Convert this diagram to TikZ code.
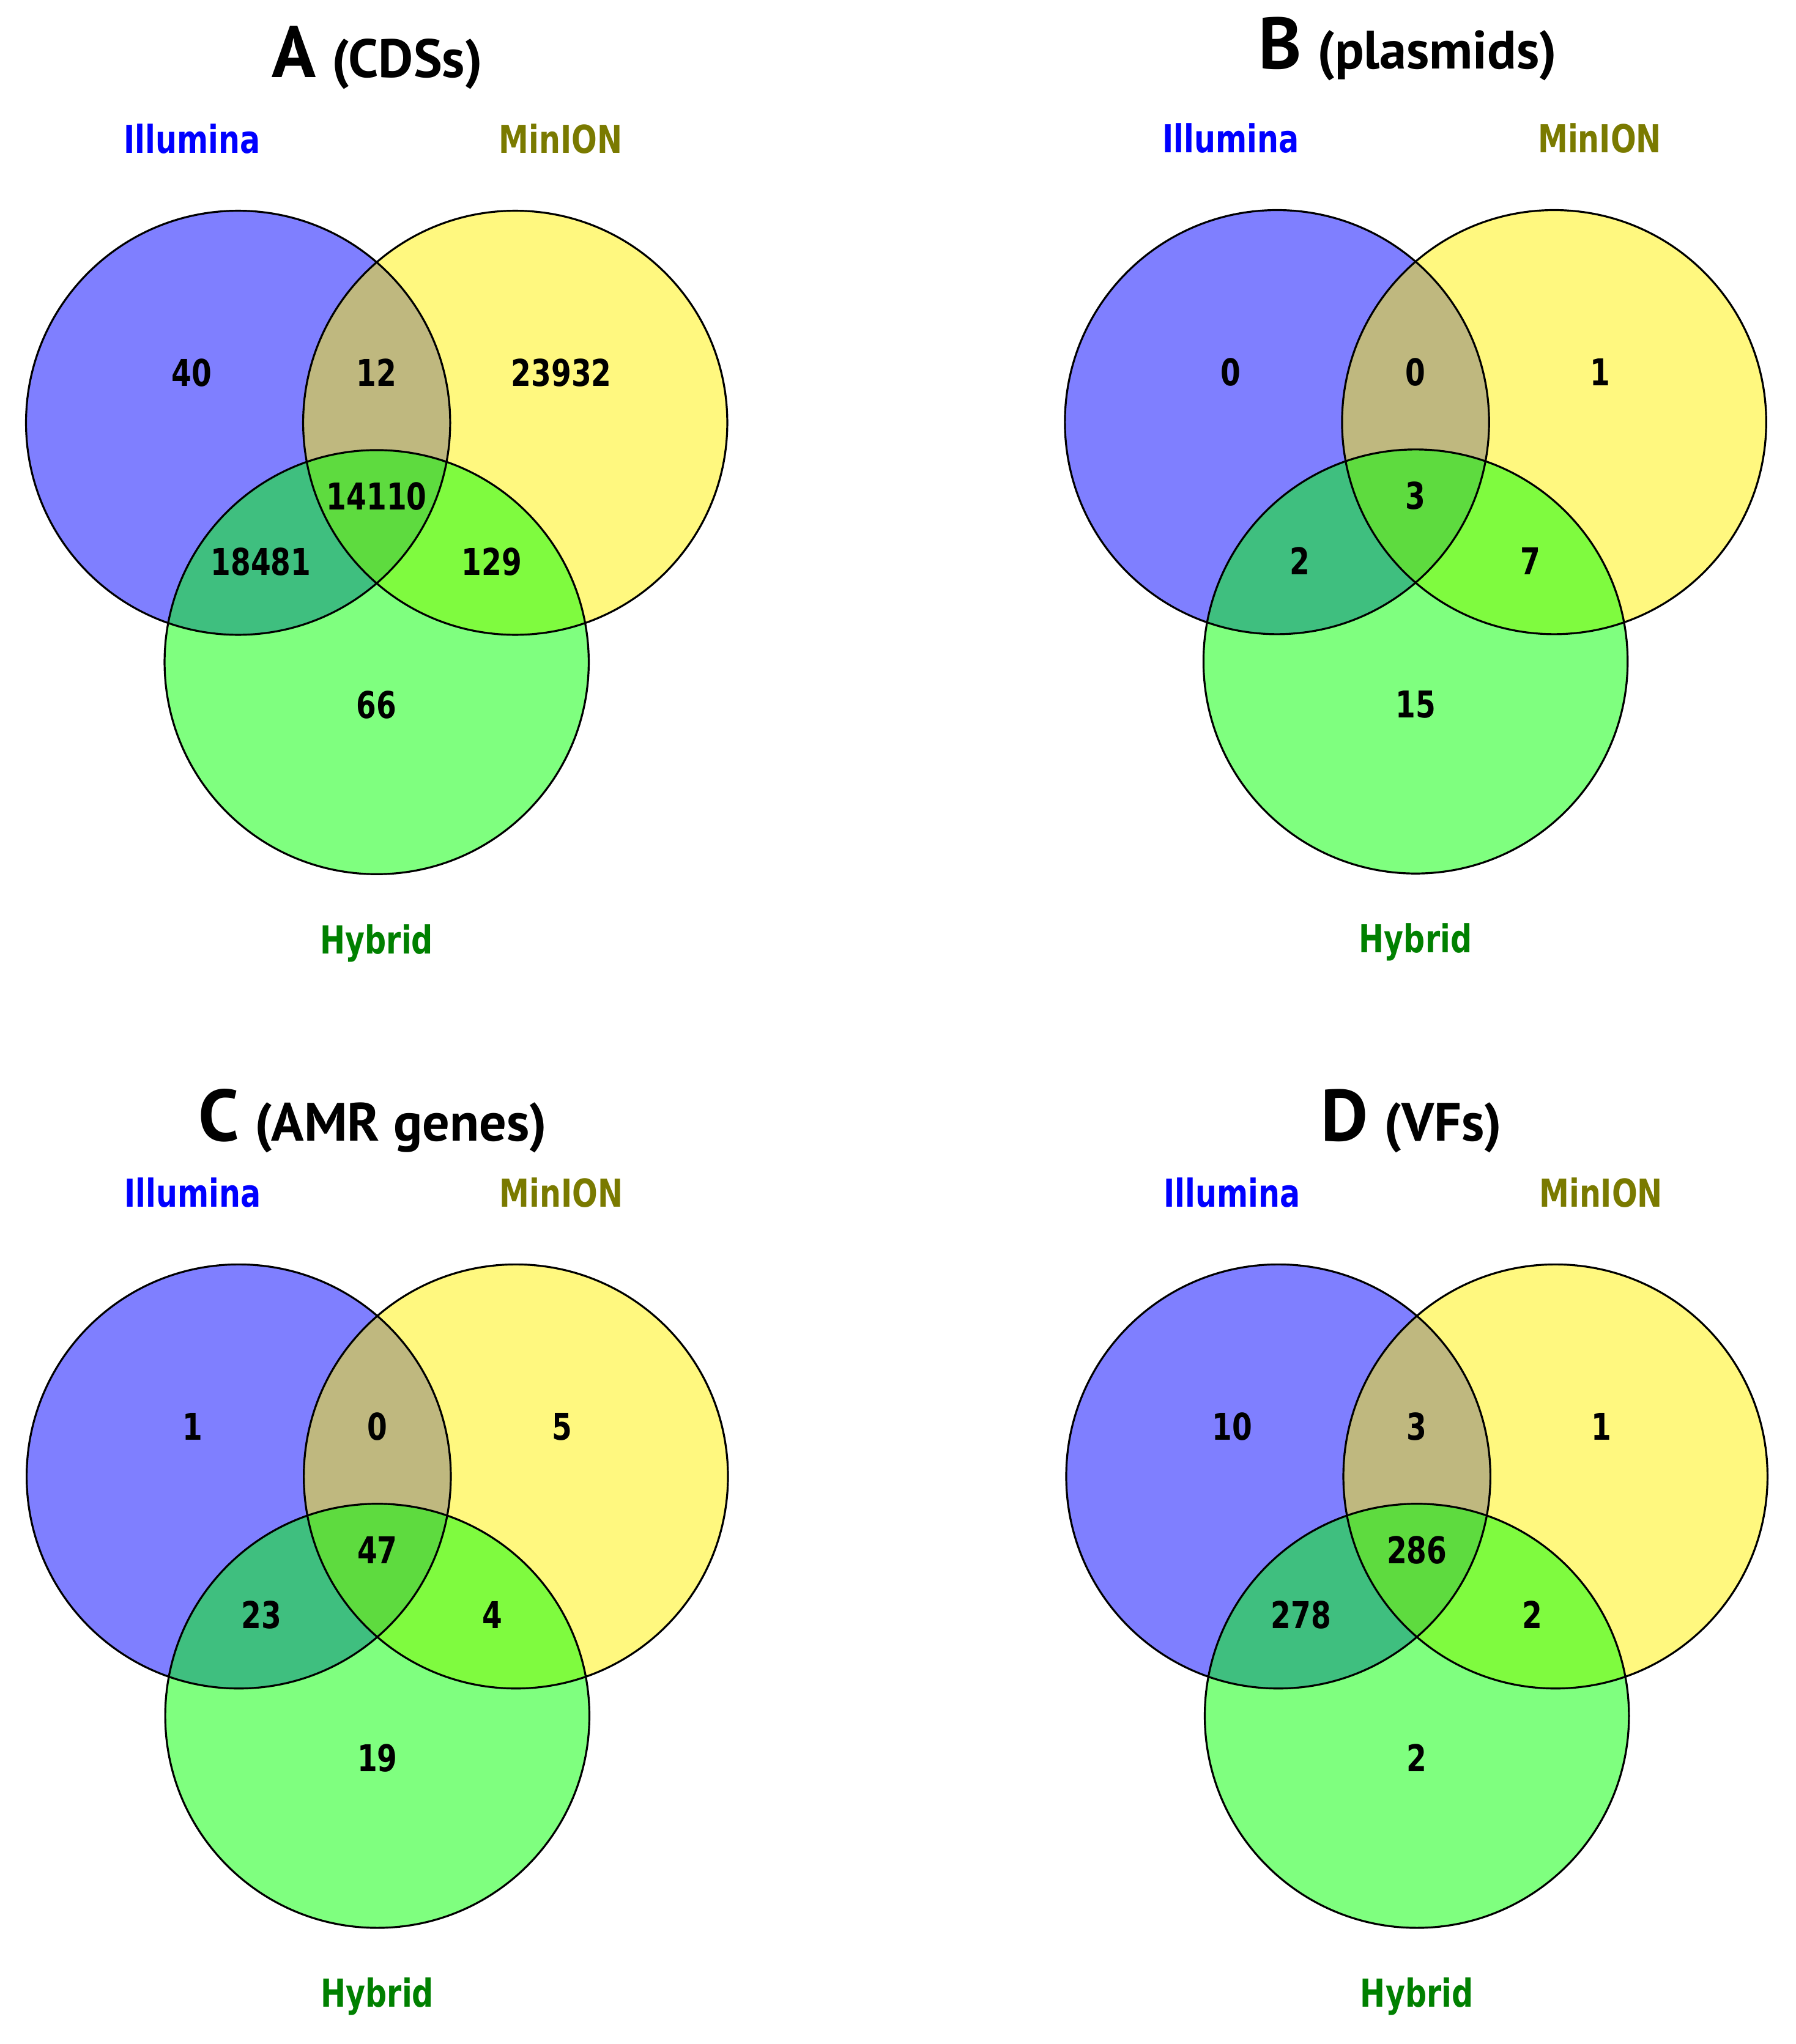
\documentclass[tikz,border=0pt]{standalone}
\usepackage{fontspec}
\newfontfamily\titlefont{PT Sans}
\newfontfamily\vennfont[FakeStretch=0.78]{DejaVu Sans}
\usetikzlibrary{positioning}
\definecolor{illblue}{HTML}{0000FF}
\definecolor{minolive}{HTML}{7A7A00}
\definecolor{hybgreen}{HTML}{008000}
\tikzstyle{setline} = [draw=black, line width=1.5pt]
\tikzstyle{illfill} = [fill=blue, fill opacity=0.5]
\tikzstyle{minfill} = [fill=yellow, fill opacity=0.5]
\tikzstyle{hybfill} = [fill=green, fill opacity=0.5]
\tikzstyle{setlabel} = [anchor=base, inner sep=0pt, font=\vennfont\bfseries\fontsize{29.6}{32}\selectfont]
\tikzstyle{areanum} = [anchor=base, inner sep=0pt, font=\vennfont\bfseries\fontsize{28.4}{30}\selectfont]
\tikzstyle{paneltitle} = [anchor=base, inner sep=0pt, font=\titlefont\bfseries]

\begin{document}
\begin{tikzpicture}[x=1pt,y=-1pt]

\useasboundingbox (0,0) rectangle (1380,1571.3);

% one venn panel per entry
\foreach \dx/\dy/\ltr/\ttl/\tx/\ty/\na/\nb/\nc/\nd/\ne/\nf/\ng in {
  0/0/A/CDSs/290/59.7/40/12/23932/14110/18481/129/66,
  798.5/-0.5/B/plasmids/1082/53/0/0/1/3/2/7/15,
  0.5/810/C/AMR genes/286.5/877/1/0/5/47/23/4/19,
  799.5/810/D/VFs/1085/877/10/3/1/286/278/2/2}
{
  \fill [illfill] (183+\dx,325+\dy) circle (163pt);
  \fill [minfill] (396+\dx,325+\dy) circle (163pt);
  \fill [hybfill] (289.5+\dx,509+\dy) circle (163pt);
  \draw [setline] (183+\dx,325+\dy) circle (163pt);
  \draw [setline] (396+\dx,325+\dy) circle (163pt);
  \draw [setline] (289.5+\dx,509+\dy) circle (163pt);

  \node (title\ltr) [paneltitle] at (\tx,\ty)
    {{\fontsize{56}{60}\selectfont\ltr}\hspace{12pt}{\fontsize{41.5}{45}\selectfont(\ttl)}};

  \node (ill\ltr) [setlabel, text=illblue] at (147.5+\dx,118+\dy) {Illumina};
  \node (min\ltr) [setlabel, text=minolive] at (431+\dx,118+\dy) {MinION};
  \node (hyb\ltr) [setlabel, text=hybgreen] at (289.5+\dx,733+\dy) {Hybrid};

  \node (onlyill\ltr) [areanum] at (147.5+\dx,297+\dy) {\na};
  \node (illmin\ltr) [areanum] at (289.5+\dx,297+\dy) {\nb};
  \node (onlymin\ltr) [areanum] at (431.5+\dx,297+\dy) {\nc};
  \node (allthree\ltr) [areanum] at (289.5+\dx,392+\dy) {\nd};
  \node (illhyb\ltr) [areanum] at (200.5+\dx,442+\dy) {\ne};
  \node (minhyb\ltr) [areanum] at (378+\dx,442+\dy) {\nf};
  \node (onlyhyb\ltr) [areanum] at (289.5+\dx,552+\dy) {\ng};
}

\end{tikzpicture}
\end{document}
